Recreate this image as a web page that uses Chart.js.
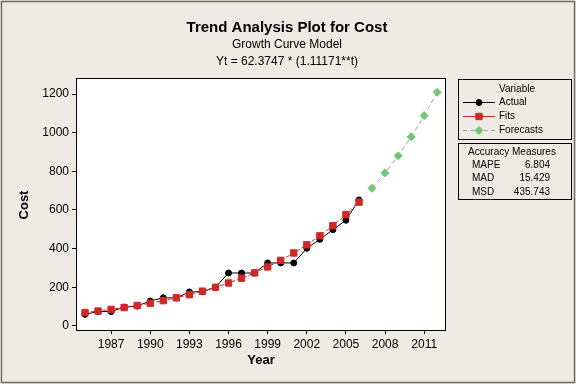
<!DOCTYPE html>
<html>
<head>
<meta charset="utf-8">
<script src="https://cdn.jsdelivr.net/npm/chart.js@4.4.0/dist/chart.umd.min.js"></script>
<style>
  body { margin: 0; background: #eeebe4; }
  canvas { display: block; }
</style>
</head>
<body>
<canvas id="trend-chart" width="576" height="384"></canvas>
<script>
let actualYears = [1985, 1986, 1987, 1988, 1989, 1990, 1991, 1992, 1993, 1994, 1995,
  1996, 1997, 1998, 1999, 2000, 2001, 2002, 2003, 2004, 2005, 2006];
let actualValues = [60, 75, 74, 97, 103, 129, 146, 145, 176, 177, 200,
  274, 274, 274, 326, 326, 326, 402, 448, 498, 547, 652];
let fitValues = [69.3, 77.1, 85.7, 95.3, 105.9, 117.7, 130.9, 145.5, 161.8, 179.8, 199.9,
  222.3, 247.1, 274.7, 305.4, 339.5, 377.4, 419.6, 466.4, 518.5, 576.5, 640.8];
let forecastYears = [2007, 2008, 2009, 2010, 2011, 2012];
let forecastValues = [712.4, 792.0, 880.5, 978.8, 1088.2, 1209.7];

let xTickValues = [1987, 1990, 1993, 1996, 1999, 2002, 2005, 2008, 2011];
let yTickValues = [0, 200, 400, 600, 800, 1000, 1200];

let measureNames = ["MAPE", "MAD", "MSD"];
let measureValues = ["6.804", "15.429", "435.743"];

const FONT = "'Liberation Sans', Arial, sans-serif";
const RED = "#d02828";
const GREEN = "#74c474";

const toPoints = (xs, ys) => xs.map((x, i) => ({ x: x, y: ys[i] }));

const panelPlugin = {
  id: "panel",
  beforeDraw(chart) {
    const ctx = chart.ctx;
    const a = chart.chartArea;
    ctx.save();
    ctx.fillStyle = "#eeebe4";
    ctx.fillRect(0, 0, chart.width, chart.height);
    ctx.strokeStyle = "#6e6e6e";
    ctx.lineWidth = 1.5;
    ctx.strokeRect(1.5, 1.5, chart.width - 3, chart.height - 3);
    ctx.fillStyle = "#ffffff";
    ctx.fillRect(a.left, a.top, a.right - a.left, a.bottom - a.top);
    ctx.restore();
  },
  afterDraw(chart) {
    const ctx = chart.ctx;
    const a = chart.chartArea;
    ctx.save();
    ctx.strokeStyle = "#000";
    ctx.lineWidth = 1;
    ctx.strokeRect(a.left + 0.5, a.top + 0.5, a.right - a.left - 1, a.bottom - a.top);

    // titles
    ctx.fillStyle = "#000";
    ctx.textAlign = "center";
    ctx.textBaseline = "middle";
    ctx.font = "bold 15px " + FONT;
    ctx.fillText("Trend Analysis Plot for Cost", 287, 28);
    ctx.font = "12px " + FONT;
    ctx.fillText("Growth Curve Model", 287, 45);
    ctx.fillText("Yt = 62.3747 * (1.11171**t)", 287, 62);

    // axis titles
    ctx.font = "bold 13px " + FONT;
    ctx.fillText("Year", 261, 360);
    ctx.save();
    ctx.translate(24, 205);
    ctx.rotate(-Math.PI / 2);
    ctx.fillText("Cost", 0, 0);
    ctx.restore();

    // legend box
    ctx.lineWidth = 1;
    ctx.strokeStyle = "#000";
    ctx.strokeRect(458.5, 79.5, 113, 60);
    ctx.strokeRect(458.5, 143.5, 113, 56);
    ctx.font = "10px " + FONT;
    ctx.fillText("Variable", 517, 89);
    const rows = [
      { label: "Actual", y: 102, color: "#000", dash: [], style: "circle", r: 3, line: "#000" },
      { label: "Fits", y: 116, color: RED, dash: [], style: "rect", r: 4.5, line: RED },
      { label: "Forecasts", y: 130, color: GREEN, dash: [4, 3], style: "rectRot", r: 4, line: "#99aa99" },
    ];
    rows.forEach(row => {
      ctx.strokeStyle = row.line;
      ctx.setLineDash(row.dash);
      ctx.beginPath();
      ctx.moveTo(463, row.y + 0.5);
      ctx.lineTo(495, row.y + 0.5);
      ctx.stroke();
      ctx.setLineDash([]);
      ctx.fillStyle = row.color;
      ctx.strokeStyle = row.color;
      Chart.helpers.drawPoint(ctx, { pointStyle: row.style, radius: row.r, borderWidth: 1 }, 479, row.y + 0.5);
      ctx.fillStyle = "#000";
      ctx.textAlign = "left";
      ctx.fillText(row.label, 499, row.y);
    });

    ctx.textAlign = "center";
    ctx.fillText("Accuracy Measures", 512, 152);
    measureNames.forEach((name, i) => {
      const y = 165 + i * 13.5;
      ctx.textAlign = "left";
      ctx.fillText(name, 472, y);
      ctx.textAlign = "right";
      ctx.fillText(measureValues[i], 550, y);
    });
    ctx.restore();
  },
};

new Chart(document.getElementById("trend-chart"), {
  type: "line",
  data: {
    datasets: [
      {
        label: "Actual",
        data: toPoints(actualYears, actualValues),
        borderColor: "#000",
        backgroundColor: "#000",
        borderWidth: 1,
        pointStyle: "circle",
        pointRadius: 3,
        order: 2,
      },
      {
        label: "Fits",
        data: toPoints(actualYears, fitValues),
        borderColor: RED,
        backgroundColor: RED,
        borderWidth: 1,
        borderDash: [4, 2],
        pointStyle: "rect",
        pointRadius: 4.5,
        order: 1,
      },
      {
        label: "Forecasts",
        data: toPoints(forecastYears, forecastValues),
        borderColor: "#99aa99",
        backgroundColor: GREEN,
        pointBorderColor: GREEN,
        borderWidth: 1,
        borderDash: [5, 3],
        pointStyle: "rectRot",
        pointRadius: 4,
        order: 0,
      },
    ],
  },
  options: {
    responsive: false,
    animation: false,
    layout: {
      padding: { top: 78, right: 130, left: 0, bottom: 0 },
    },
    plugins: {
      legend: { display: false },
      tooltip: { enabled: false },
    },
    scales: {
      x: {
        type: "linear",
        min: 1984.31,
        max: 2012.67,
        afterFit: s => { s.height = 54; },
        afterBuildTicks: s => { s.ticks = xTickValues.map(v => ({ value: v })); },
        grid: { drawOnChartArea: false, tickLength: 4, color: "#000" },
        border: { display: false },
        ticks: {
          color: "#000",
          font: { family: FONT, size: 12 },
          padding: 3,
          maxRotation: 0,
          autoSkip: false,
          callback: v => String(v),
        },
      },
      y: {
        min: -21,
        max: 1283,
        afterFit: s => { s.width = 76; },
        afterBuildTicks: s => { s.ticks = yTickValues.map(v => ({ value: v })); },
        grid: { drawOnChartArea: false, tickLength: 4, color: "#000" },
        border: { display: false },
        ticks: {
          color: "#000",
          font: { family: FONT, size: 12 },
          padding: 3,
          autoSkip: false,
          callback: v => String(v),
        },
      },
    },
  },
  plugins: [panelPlugin],
});
</script>
</body>
</html>
